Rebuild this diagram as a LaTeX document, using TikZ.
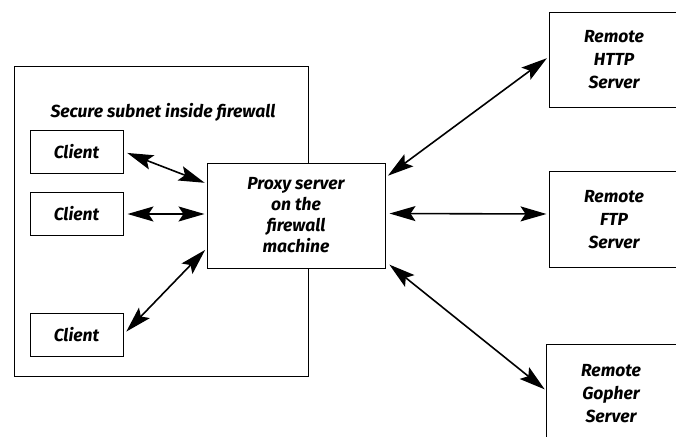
\documentclass[tikz,border=0pt]{standalone}
\usepackage{fontspec}
\usepackage{tikz}
\usetikzlibrary{arrows.meta, positioning, calc}
\newfontfamily\boxfont{Fira Sans}
\tikzset{
  box/.style={rectangle, draw, fill=white, line width=1pt,
    font=\boxfont\bfseries\itshape\fontsize{17.5}{23}\selectfont,
    align=center, inner sep=0pt},
  client/.style={box, minimum width=93pt, minimum height=43pt},
  remote/.style={box, minimum width=130pt, minimum height=96pt},
  wall/.style={rectangle, draw, line width=1pt, inner sep=0pt},
  link/.style={arrows={Stealth[length=26pt,width=15pt,inset=5pt]-Stealth[length=26pt,width=15pt,inset=5pt]},
    line width=1.6pt}
}

\begin{document}
\begin{tikzpicture}[x=1pt, y=-1pt]
  \useasboundingbox (0,0) rectangle (676,436);
  \clip (0,0) rectangle (676,436);

  \node[wall, minimum width=294pt, minimum height=310pt] (firewall) at (161,221) {};
  \node[font=\boxfont\bfseries\itshape\fontsize{17.5}{20}\selectfont] (subnet) at (163,112) {Secure subnet inside firewall};

  \node[client] (c1) at (76.5,151.5) {Client};
  \node[client] (c2) at (76.5,214) {Client};
  \node[client] (c3) at (76.5,334.5) {Client};

  \node[box, minimum width=178pt, minimum height=105pt,
    font=\boxfont\bfseries\itshape\fontsize{17.5}{21}\selectfont] (proxy) at (296,215.5)
    {Proxy server\\on the\\firewall\\machine};

  \node[remote, minimum height=94pt] (http) at (614,60) {Remote\\HTTP\\Server};
  \node[remote] (ftp) at (614,219.5) {Remote\\FTP\\Server};
  \node[remote, minimum height=100pt] (gopher) at (611,394) {Remote\\Gopher\\Server};

  \draw[link, shorten <=4pt, shorten >=2pt] (c1.east) -- ([yshift=32pt]proxy.west);
  \draw[link, shorten <=4pt, shorten >=2pt] (c2.east) -- (c2.east -| proxy.west);
  \draw[link, shorten <=4pt, shorten >=2pt] (c3.east) -- ([yshift=-33pt]proxy.west);

  \draw[link, shorten <=3pt, shorten >=2pt] ([yshift=38pt]proxy.east) -- ([yshift=3pt]http.west);
  \draw[link, shorten <=4pt, shorten >=2pt] ([yshift=2pt]proxy.east) -- ([yshift=5.5pt]ftp.west);
  \draw[link, shorten <=5pt, shorten >=1pt] ([yshift=-46pt]proxy.east) -- ([yshift=4pt]gopher.west);
\end{tikzpicture}
\end{document}
